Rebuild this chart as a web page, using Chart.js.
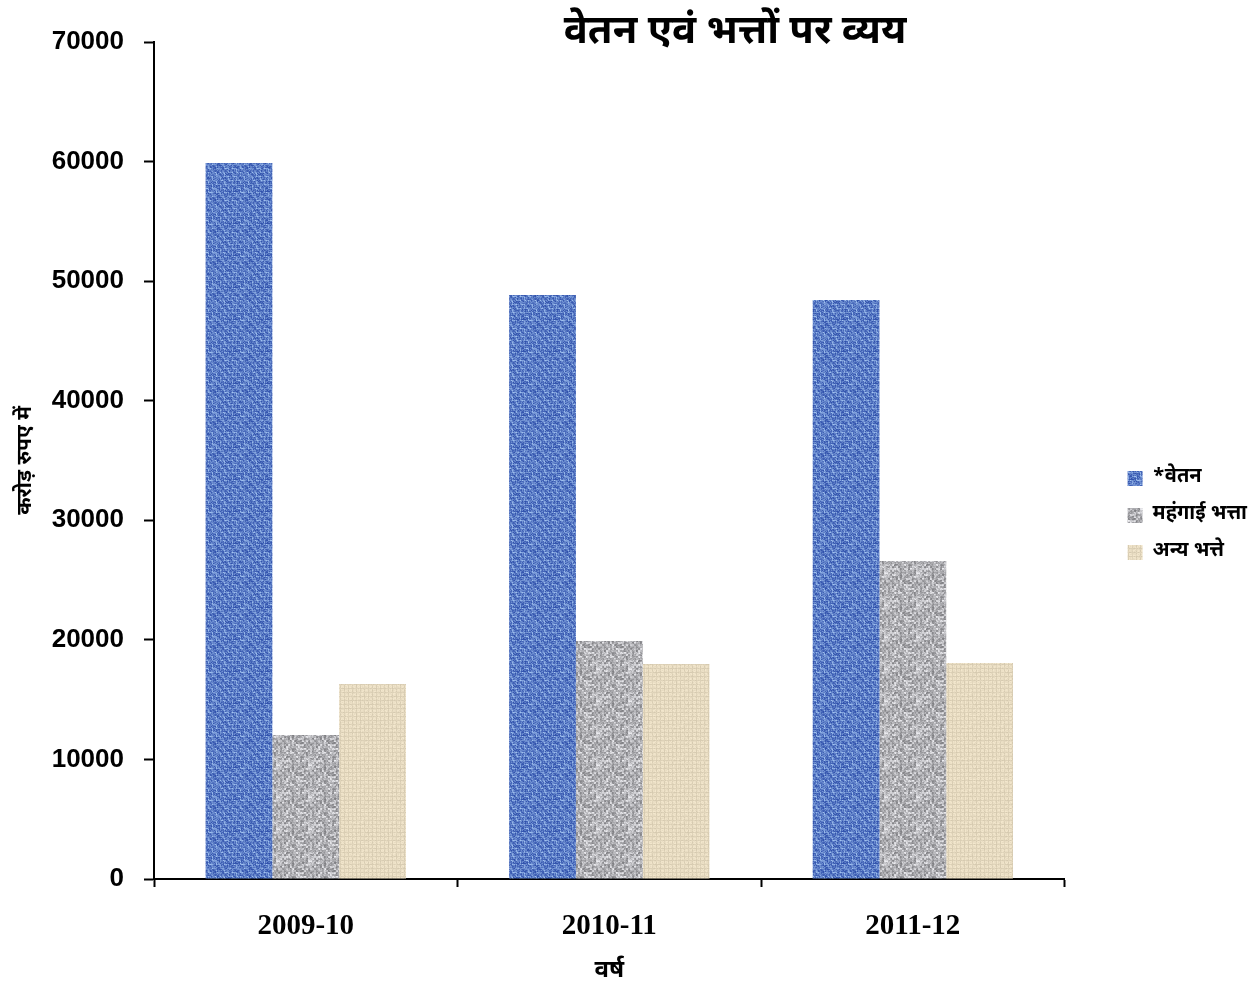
<!DOCTYPE html>
<html>
<head>
<meta charset="utf-8">
<script src="https://cdn.jsdelivr.net/npm/chart.js@4.4.1/dist/chart.umd.min.js"></script>
<style>
  html, body { margin: 0; padding: 0; background: #fff; }
  #wrap { width: 1257px; height: 989px; }
</style>
</head>
<body>
<div id="wrap"><canvas id="chart" width="1257" height="989"></canvas></div>
<script>
// data (करोड़ रुपए में)
const years = ['2009-10', '2010-11', '2011-12'];
const salary = [59880, 48840, 48420];            // *वेतन
const dearness = [12040, 19900, 26600];          // महंगाई भत्ता
const otherAllow = [16300, 17980, 18060];        // अन्य भत्ते
const seriesNames = ['*वेतन', 'महंगाई भत्ता', 'अन्य भत्ते'];
const yMax = 70000;
const yStep = 10000;

const devFont = "'Noto Sans Devanagari', 'Lohit Devanagari', 'FreeSans', 'Noto Sans', sans-serif";

// small hash for the texture grain
function grain(x, y, s) {
    let n = (x * 374761393 + y * 668265263 + s * 982451653) | 0;
    n = Math.imul(n ^ (n >>> 13), 1274126177);
    return ((n ^ (n >>> 16)) >>> 0) / 4294967296;
}

function makePattern(kind) {
    const c = document.createElement('canvas');
    const size = 32;
    c.width = size; c.height = size;
    const g = c.getContext('2d');
    const img = g.createImageData(size, size);
    for (let y = 0; y < size; y++) {
        for (let x = 0; x < size; x++) {
            const i = (y * size + x) * 4;
            let r, gg, b;
            const n = grain(x, y, kind.length);
            if (kind === 'blue') {
                // woven look: alternate horizontal / vertical threads
                const cell = ((x >> 2) + (y >> 2)) % 2;
                const line = cell ? (x % 4 === 0) : (y % 4 === 0);
                let v = line ? 35 : -10;
                v += (n - 0.5) * 70;
                r = 92 + v; gg = 125 + v; b = 198 + v * 0.6;
            } else if (kind === 'gray') {
                const n2 = (n + grain(x >> 1, y >> 1, 7) * 2) / 3;
                const v = 120 + n2 * 120;
                r = v; gg = v; b = v + 4;
            } else {
                const line = (x % 4 === 0) || (y % 4 === 0);
                let v = line ? -16 : 0;
                v += (n - 0.5) * 14;
                r = 236 + v; gg = 224 + v; b = 198 + v;
            }
            img.data[i] = r; img.data[i + 1] = gg; img.data[i + 2] = b; img.data[i + 3] = 255;
        }
    }
    g.putImageData(img, 0, 0);
    return g.createPattern(c, 'repeat');
}

// title drawn above the plot, overlapping the top like the original
const titlePlugin = {
    id: 'topTitle',
    afterDraw(chart) {
        const ctx = chart.ctx;
        ctx.save();
        ctx.fillStyle = '#000';
        ctx.font = "bold 40px " + devFont;
        ctx.textAlign = 'center';
        ctx.textBaseline = 'middle';
        ctx.fillText('वेतन एवं भत्तों पर व्यय', 735, 36);
        ctx.restore();
    }
};

const ctx = document.getElementById('chart').getContext('2d');
new Chart(ctx, {
    type: 'bar',
    data: {
        labels: years,
        datasets: [
            { label: seriesNames[0], data: salary, backgroundColor: makePattern('blue') },
            { label: seriesNames[1], data: dearness, backgroundColor: makePattern('gray') },
            { label: seriesNames[2], data: otherAllow, backgroundColor: makePattern('beige') }
        ]
    },
    options: {
        responsive: false,
        animation: false,
        devicePixelRatio: 1,
        layout: { padding: { top: 42, left: 0, right: 0, bottom: 0 } },
        datasets: {
            bar: { barPercentage: 1.0, categoryPercentage: 0.66, borderWidth: 0 }
        },
        plugins: {
            tooltip: { enabled: false },
            legend: {
                position: 'right',
                align: 'center',
                labels: {
                    color: '#000',
                    boxWidth: 15,
                    boxHeight: 15,
                    padding: 17,
                    font: { family: devFont, size: 20, weight: 'bold' }
                }
            }
        },
        scales: {
            x: {
                afterFit(scale) { scale.height = 110; },
                grid: {
                    display: true,
                    offset: true,
                    drawOnChartArea: false,
                    drawTicks: true,
                    tickLength: 8,
                    tickWidth: 2,
                    color: '#000'
                },
                border: { display: true, color: '#000', width: 2 },
                ticks: {
                    color: '#000',
                    padding: 22,
                    font: { family: "'Liberation Serif', serif", size: 29, weight: 'bold' }
                },
                title: {
                    display: true,
                    text: 'वर्ष',
                    color: '#000',
                    padding: { top: 0, bottom: 2 },
                    font: { family: devFont, size: 24, weight: 'bold' }
                }
            },
            y: {
                min: 0,
                max: yMax,
                afterFit(scale) { scale.width = 154; },
                grid: {
                    display: true,
                    drawOnChartArea: false,
                    drawTicks: true,
                    tickLength: 10,
                    tickWidth: 2,
                    color: '#000'
                },
                border: { display: true, color: '#000', width: 2 },
                ticks: {
                    stepSize: yStep,
                    color: '#000',
                    padding: 20,
                    callback: (v) => String(v),
                    font: { family: "'Liberation Sans', Arial, sans-serif", size: 26, weight: 'bold' }
                },
                title: {
                    display: true,
                    text: 'करोड़ रुपए में',
                    color: '#000',
                    padding: { top: 14, bottom: 0 },
                    font: { family: devFont, size: 21, weight: 'bold' }
                }
            },
            // empty spacer between the plot and the legend
            gap: {
                type: 'linear',
                position: 'right',
                display: true,
                afterFit(scale) { scale.width = 46; },
                grid: { display: false },
                border: { display: false },
                ticks: { display: false }
            }
        }
    },
    plugins: [titlePlugin]
});
</script>
</body>
</html>
